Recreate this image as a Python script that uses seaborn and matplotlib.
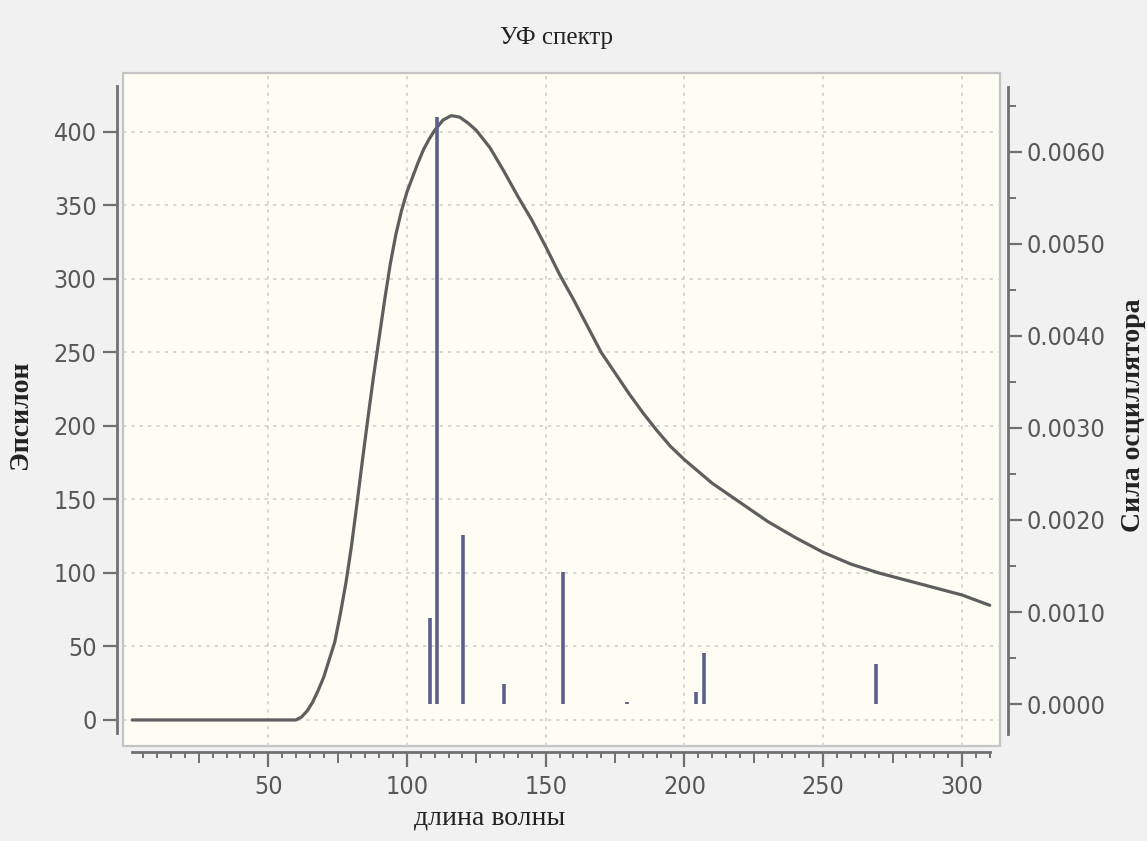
import matplotlib
matplotlib.use("Agg")
import matplotlib.pyplot as plt
from matplotlib import font_manager
import seaborn as sns
import numpy as np
from matplotlib.ticker import FuncFormatter

# UV spectrum envelope (wavelength -> epsilon)
wavelength = [1, 10, 20, 30, 40, 50, 58, 60, 62, 64, 66, 68, 70, 72, 74, 76, 78, 80,
              82, 84, 86, 88, 90, 92, 94, 96, 98, 100, 102, 104, 106, 108, 110, 113,
              116, 119, 122, 125, 130, 135, 140, 145, 150, 155, 160, 165, 170, 175,
              180, 185, 190, 195, 200, 210, 220, 230, 240, 250, 260, 270, 280, 290,
              300, 310]
epsilon = [0, 0, 0, 0, 0, 0, 0, 0, 2, 6, 12, 20, 29, 41, 53, 72, 93, 118,
           147, 177, 206, 234, 260, 286, 310, 330, 346, 359, 369, 379, 388, 395, 401, 408,
           411, 410, 406, 401, 389, 373, 356, 340, 322, 303, 286, 268, 250, 236,
           222, 209, 197, 186, 177, 161, 148, 135, 124, 114, 106, 100, 95, 90,
           85, 78]

# oscillator strengths (sticks)
stick_x = [108.3, 110.9, 120.1, 135.1, 156.2, 179.3, 204.3, 207.1, 269.1]
stick_f = [0.00094, 0.00638, 0.00184, 0.00022, 0.00143, 0.00002, 0.00013, 0.00055, 0.00044]

x_major = [50, 100, 150, 200, 250, 300]
eps_ticks = [0, 50, 100, 150, 200, 250, 300, 350, 400]
f_ticks = [0.0, 0.001, 0.002, 0.003, 0.004, 0.005, 0.006]
f_minor = [0.0005, 0.0015, 0.0025, 0.0035, 0.0045, 0.0055, 0.0065]

sns.set_style("white")
plt.rcParams["font.family"] = ["DejaVu Sans"]
# narrow digits like the original if the condensed face is installed
has_cond = any(f.name == "DejaVu Sans" and f.stretch != "normal"
               for f in font_manager.fontManager.ttflist)
if has_cond:
    plt.rcParams["font.stretch"] = "condensed"
    tick_fs = 18
else:
    tick_fs = 16

axis_col = "#707070"
lab_col = "#575757"

fig = plt.figure(figsize=(11.47, 8.41), dpi=100, facecolor="#f1f1f1")
ax = fig.add_axes([123 / 1147, 1 - 746 / 841, 877 / 1147, 673 / 841])
ax.set_facecolor("#fdfdf4")
ax.patch.set_edgecolor("#c4c4c4")
ax.patch.set_linewidth(1.6)

sns.lineplot(x=wavelength, y=epsilon, ax=ax, color="#5e5e5e", linewidth=2.3)
ax.set_xlim(-2.3, 313.7)
ax.set_ylim(-17.7, 440)
ax.set_xlabel("")
ax.set_ylabel("")

ax.grid(True, which="major", color="#d0d0d0", linestyle=(0, (2, 3)), linewidth=1.2)
ax.set_axisbelow(True)

ax.spines["top"].set_visible(False)
ax.spines["right"].set_visible(False)
for s in ["left", "bottom"]:
    ax.spines[s].set_color(axis_col)
    ax.spines[s].set_linewidth(2)
ax.spines["left"].set_position(("outward", 4))
ax.spines["bottom"].set_position(("outward", 4))
ax.spines["left"].set_bounds(-9, 431)
ax.spines["bottom"].set_bounds(1, 310)

ax.set_xticks(x_major)
ax.set_xticks(np.arange(5, 311, 5), minor=True)
ax.set_yticks(eps_ticks)
ax.tick_params(axis="x", which="major", direction="out", length=11, width=1.6,
               color=axis_col, labelsize=tick_fs, labelcolor=lab_col, pad=6, bottom=True)
ax.tick_params(axis="x", which="minor", direction="out", length=4.5, width=1.4,
               color=axis_col, bottom=True)
ax.tick_params(axis="y", which="major", direction="out", length=10, width=1.6,
               color=axis_col, labelsize=tick_fs, labelcolor=lab_col, pad=5, left=True)
locs = ax.xaxis.get_minorticklocs()
for loc, tk in zip(locs, ax.xaxis.get_minor_ticks(len(locs))):
    if loc % 25 == 0:
        tk.tick1line.set_markersize(8)

ax2 = ax.twinx()
ax2.vlines(stick_x, 0, stick_f, color="#5c5f8e", linewidth=2.6)
ax2.set_ylim(-0.000456, 0.006857)
for s in ["left", "top", "bottom"]:
    ax2.spines[s].set_visible(False)
ax2.spines["right"].set_color(axis_col)
ax2.spines["right"].set_linewidth(2)
ax2.spines["right"].set_position(("outward", 6))
ax2.spines["right"].set_bounds(-0.000325, 0.006705)
ax2.set_yticks(f_ticks)
ax2.set_yticks(f_minor, minor=True)
ax2.yaxis.set_major_formatter(FuncFormatter(lambda v, p: f"{v:.4f}"))
ax2.tick_params(axis="y", which="major", direction="out", length=10, width=1.6,
                color=axis_col, labelsize=tick_fs, labelcolor=lab_col, pad=3, right=True)
ax2.tick_params(axis="y", which="minor", direction="out", length=6, width=1.4,
                color=axis_col, right=True)

serif = ["Liberation Serif", "DejaVu Serif"]
fig.text(556 / 1147, 1 - 38 / 841, "УФ спектр", ha="center", va="center",
         family=serif, fontsize=18, color="#222222", fontstretch="normal")
fig.text(490 / 1147, 1 - 818 / 841, "длина волны", ha="center", va="center",
         family=serif, fontsize=20, color="#222222", fontstretch="normal")
fig.text(21 / 1147, 1 - 415 / 841, "Эпсилон", ha="center", va="center", rotation=90,
         family=serif, fontsize=20, fontweight="bold", color="#222222",
         fontstretch="normal")
fig.text(1133 / 1147, 1 - 415 / 841, "Сила осциллятора", ha="center", va="center",
         rotation=90, family=serif, fontsize=20, fontweight="bold", color="#222222",
         fontstretch="normal")

fig.savefig("out.png", dpi=100, facecolor=fig.get_facecolor())
